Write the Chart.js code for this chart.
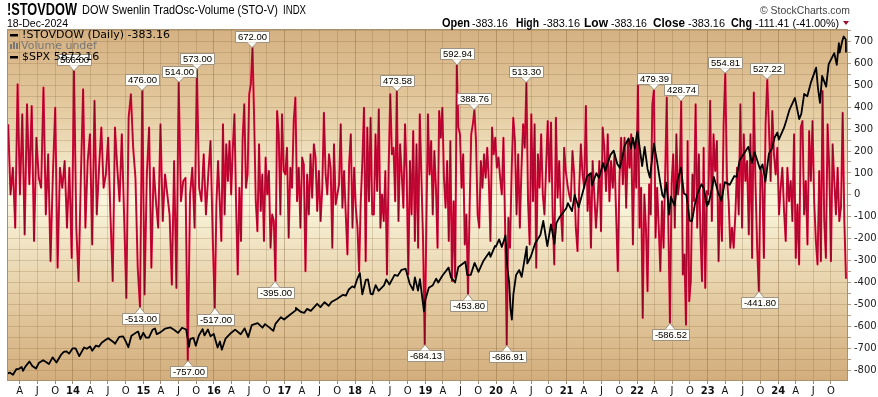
<!DOCTYPE html>
<html>
<head>
<meta charset="utf-8">
<script src="https://cdn.jsdelivr.net/npm/chart.js@4.4.0/dist/chart.umd.min.js"></script>
<style>
  html, body { margin: 0; padding: 0; background: #fff; overflow: hidden; }
</style>
</head>
<body>
<canvas id="chart" width="878" height="397"></canvas>
<script>
// --- data ---
const firstDay = [2013, 1, 25];
const lastDay = [2024, 12, 18];
const oscYears = [2013, 2014, 2015, 2016, 2017, 2018, 2019, 2020, 2021, 2022, 2023, 2024];

// !STOVDOW, values spread evenly through each year
const osc2013 = [322, 2, 124, -150, 505, 2, 368, -181, 413, 48, 406, -211, 261, 78, 32, 490, -90, 185, -303, 93, 398, -333, 124, 32, 154, -150, 124, -288];
const osc2014 = [566, -150, -394, 78, 482, -150, 154, 276, -227, 429, -90, 124, 307, 32, 93, 261, -90, -394, 307, 124, -29, 276, -90, -471, 352, 459, 215, 78, -333, -513, 476];
const osc2015 = [-455, 93, 307, -333, 124, -29, -150, 322, -120, 93, 2, -90, -410, 154, -425, 514, -29, 63, 78, -757, 2, 124, -150, 573, 32, -29, 185, -90, 93, 246, -211];
const osc2016 = [-517, -44, 154, -29, -211, 322, -90, 231, 63, 246, 2, 215, 368, -44, -364, 32, -211, 261, 413, 32, 93, 459, 505, 672, 352, -29, -166, 231, -74, 93, -211, 170, 2, 109, -242, -90, -120, -395, 383, 276, -90, 368, 109];
const osc2017 = [93, 215, -196, 124, 32, 337, 444, -29, 124, -150, 170, 139, -349, 93, -90, 185, -13, 231, 170, -74, 109, -120, 32, 375, 93, 2, 185, 124, -242, 231, -44, 2, 48, 322, -59, 109, -90, -272, 139, 276, -150, 124];
const osc2018 = [-59, -150, -349, -29, 154, 398, -303, 307, -29, 352, -90, -90, 276, 17, 391, -150, 2, -120, 109, -364, 124, 459, 185, 215, -29, 473.58, -120, 231, 93, -59, 322, 93, -364, 154, -90, 291, -211, 231, -242, 368, 78, -211, -684.13];
const osc2019 = [-150, 368, 93, 246, -90, 200, 32, -242, 383, 261, 398, 78, -59, 154, -211, 246, -394, -29, -379, 592.94, 307, 276, 32, 185, -227, -90, -453.8, -59, 276, 322, 388.76, 246, -90, -150, 154, 32, 185, 78, 215, 63, -211, 307, 185, 261];
const osc2020 = [124, 170, 78, 2, 261, -135, -686.91, -105, -242, 109, 352, 246, -90, 185, -150, 124, 322, 215, 513.3, -29, -227, 368, -29, 322, -333, 185, 32, 276, 2, -90, 124, 337, 60, 330, -90, -318, 352, -13, 154, -74, -211, 215, 109];
const osc2021 = [48, 2, -29, 200, 93, -150, -257, 32, 231, 93, 32, 406, -74, 93, -242, 154, 2, -150, -29, 154, -166, 307, 215, 17, 276, -29, 154, 32, 185, -90, -349, 78, 261, 48, 261, -59, 246, 124, 276, -227, 231, 32];
const osc2022 = [505, -150, 32, -562, 2, -150, -440, 48, -90, 413, 479.39, -196, 32, -150, -349, -29, -242, 93, 444, -150, -586.52, 48, 185, -150, 276, 2, 63, 428.74, -364, -272, -593, 246, -486, -394, 93, -29, 413, -150, 185, -181, -394, 215, -425, 17];
const osc2023 = [2, 429, -120, 276, 109, 246, -303, 48, -211, 322, 554.81, 78, -29, -242, -150, -242, -90, 124, -90, 413, -150, 276, 63, 154, -181, 276, -288, 467, 48, -242, -441.8, 124, 78, -288, 322, 527.22, 307, 63, 383, 185, 93, 215];
const osc2024 = [-90, 32, 124, -74, -211, 124, -29, 63, -120, 276, -288, -44, -318, 307, 337, -90, 63, -227, 291, 63, 337, -29, -211, -318, 109, -303, 474, -120, -288, 322, 124, -303, 231, 63, -90, 124, -120, -59, 375, -120, -383.16];

// $SPX as [month, day, close]
const spx2013 = [[1,25,1503],[2,8,1518],[2,25,1488],[3,14,1563],[3,28,1569],[4,11,1593],[4,18,1541],[4,30,1598],[5,21,1669],[6,5,1608],[6,24,1573],[7,10,1652],[7,31,1686],[8,15,1661],[8,30,1633],[9,18,1725],[10,8,1655],[10,31,1757],[11,15,1798],[11,29,1806],[12,12,1775],[12,31,1848]];
const spx2014 = [[1,15,1848],[2,3,1742],[2,28,1859],[3,14,1841],[3,31,1872],[4,11,1815],[4,30,1884],[5,15,1870],[5,30,1924],[6,20,1963],[7,3,1985],[7,31,1931],[8,7,1910],[8,29,2003],[9,18,2011],[10,1,1946],[10,15,1862],[10,31,2018],[11,28,2068],[12,5,2075],[12,16,1973],[12,31,2059]];
const spx2015 = [[1,15,1992],[1,30,1995],[2,17,2100],[3,2,2117],[3,11,2040],[3,31,2068],[4,24,2117],[5,21,2131],[6,12,2094],[6,29,2057],[7,20,2128],[8,10,2104],[8,25,1867],[8,31,1972],[9,17,1990],[9,29,1884],[10,15,2023],[11,3,2109],[11,13,2023],[12,1,2103],[12,14,2012],[12,31,2044]];
const spx2016 = [[1,20,1859],[2,1,1940],[2,11,1829],[3,1,1978],[3,31,2060],[4,20,2102],[5,19,2040],[6,8,2119],[6,27,2000],[7,15,2162],[8,15,2190],[9,9,2128],[9,22,2177],[10,14,2133],[11,4,2085],[11,15,2180],[12,13,2271],[12,30,2239]];
const spx2017 = [[1,26,2298],[2,28,2364],[3,1,2396],[3,27,2342],[4,13,2329],[4,28,2384],[5,17,2357],[6,19,2453],[7,6,2409],[7,27,2475],[8,18,2426],[9,1,2477],[9,29,2519],[10,31,2575],[11,15,2565],[11,30,2648],[12,18,2690],[12,29,2674]];
const spx2018 = [[1,12,2786],[1,26,2872],[2,8,2581],[2,26,2780],[3,9,2786],[3,23,2588],[4,2,2582],[4,18,2708],[5,3,2630],[5,31,2705],[6,12,2786],[6,28,2716],[7,25,2846],[8,10,2833],[8,29,2914],[9,20,2930],[10,11,2728],[10,29,2641],[11,7,2813],[11,23,2633],[12,3,2790],[12,24,2351],[12,31,2507]];
const spx2019 = [[1,18,2671],[2,8,2707],[2,25,2796],[3,8,2743],[3,29,2834],[4,30,2946],[5,13,2812],[6,3,2744],[6,20,2954],[7,26,3026],[8,5,2844],[8,23,2847],[9,12,3010],[10,2,2887],[10,28,3040],[11,27,3154],[12,3,3093],[12,27,3240],[12,31,3231]];
const spx2020 = [[1,17,3330],[1,31,3226],[2,19,3386],[2,28,2954],[3,9,2747],[3,16,2386],[3,23,2237],[3,31,2585],[4,14,2846],[4,30,2912],[5,13,2820],[6,8,3232],[6,11,3002],[6,30,3100],[7,22,3276],[8,18,3390],[9,2,3580],[9,23,3237],[10,12,3534],[10,30,3270],[11,9,3550],[11,27,3638],[12,18,3709],[12,31,3756]];
const spx2021 = [[1,8,3824],[1,29,3714],[2,12,3934],[3,4,3768],[3,26,3974],[4,16,4185],[5,7,4232],[5,12,4063],[6,4,4229],[6,18,4166],[7,9,4369],[7,19,4258],[8,16,4479],[9,2,4537],[9,20,4358],[10,4,4300],[10,29,4605],[11,18,4704],[11,30,4567],[12,10,4712],[12,20,4568],[12,31,4766]];
const spx2022 = [[1,3,4797],[1,27,4326],[2,9,4587],[2,24,4288],[3,8,4171],[3,29,4631],[4,14,4393],[4,29,4132],[5,12,3930],[5,20,3901],[6,1,4101],[6,16,3666],[6,24,3912],[7,14,3790],[7,29,4130],[8,16,4305],[8,31,3955],[9,13,3933],[9,30,3586],[10,12,3577],[10,27,3808],[11,10,3956],[11,30,4080],[12,13,4019],[12,28,3783],[12,31,3840]];
const spx2023 = [[1,5,3808],[1,27,4071],[2,2,4180],[2,24,3970],[3,13,3855],[3,31,4109],[4,25,4071],[5,19,4192],[5,31,4180],[6,16,4410],[7,31,4589],[8,18,4370],[9,1,4516],[9,29,4288],[10,12,4350],[10,27,4117],[11,14,4496],[11,30,4568],[12,14,4719],[12,28,4783]];
const spx2024 = [[1,4,4688],[1,31,4846],[2,13,4953],[2,29,5096],[3,28,5254],[4,19,4967],[4,30,5036],[5,15,5308],[5,31,5278],[6,20,5473],[7,16,5667],[7,25,5399],[8,5,5186],[8,16,5554],[9,6,5408],[9,19,5713],[10,18,5864],[10,31,5705],[11,11,6001],[11,15,5870],[11,29,6032],[12,6,6090],[12,17,6050],[12,18,5872]];

// tagged highs / lows
const peakTags = [566, 476, 514, 573, 672, 473.58, 592.94, 388.76, 513.3, 479.39, 428.74, 554.81, 527.22];
const troughTags = [-513, -757, -517, -395, -684.13, -453.8, -686.91, -586.52, -441.8];

// axis labels
const quarterLetters = ['A', 'J', 'O'];
const yTickLabels = [-800, -700, -600, -500, -400, -300, -200, -100, 0, 100, 200, 300, 400, 500, 600, 700];

const oscSeries = [osc2013, osc2014, osc2015, osc2016, osc2017, osc2018, osc2019, osc2020, osc2021, osc2022, osc2023, osc2024];
const spxSeries = [spx2013, spx2014, spx2015, spx2016, spx2017, spx2018, spx2019, spx2020, spx2021, spx2022, spx2023, spx2024];

function decYear(y, m, d) {
    const t0 = Date.UTC(y, 0, 1), t1 = Date.UTC(y + 1, 0, 1);
    return y + (Date.UTC(y, m - 1, d) - t0) / (t1 - t0);
}

const xStart = decYear(...firstDay);
const xEnd = decYear(...lastDay);
const xMax = 2024.99;

const oscPoints = [];
oscSeries.forEach((vals, k) => {
    const yr = oscYears[k];
    const s = Math.max(yr, xStart);
    let span = Math.min(yr + 1, xEnd) - s;
    if (k === oscSeries.length - 1) span = span * vals.length / (vals.length - 0.5);
    vals.forEach((v, i) => oscPoints.push({ x: s + (i + 0.5) * span / vals.length, y: v }));
});

const spxPoints = [];
spxSeries.forEach((rows, k) => {
    rows.forEach(([m, d, v]) => spxPoints.push({ x: decYear(oscYears[k], m, d), y: v }));
});

const quarterTicks = [];
oscYears.forEach(yr => {
    [1, 4, 7, 10].forEach((m, q) => {
        const v = decYear(yr, m, 1);
        if (v < xStart || v > xMax) return;
        quarterTicks.push({
            value: v,
            isYear: q === 0,
            label: q === 0 ? String(yr % 100).padStart(2, '0') : quarterLetters[q - 1]
        });
    });
});

const yGrid = [];
yTickLabels.forEach(v => { yGrid.push(v); yGrid.push(v + 50); });

// --- drawing helpers ---
function fitText(ctx, text, x, y, width) {
    const w = ctx.measureText(text).width;
    ctx.save();
    ctx.translate(x, y);
    ctx.scale(width / w, 1);
    ctx.fillText(text, 0, 0);
    ctx.restore();
}

function drawTag(ctx, text, px, py, above) {
    ctx.font = '9.5px "Liberation Sans", Arial, sans-serif';
    const w = Math.round(ctx.measureText(text).width) + 5;
    const h = 11, tri = 5.5;
    const bx = Math.round(px - w / 2) + 0.5;
    const by = Math.round(above ? py - tri - h : py + tri) + 0.5;
    ctx.fillStyle = '#fffdf7';
    ctx.strokeStyle = '#9d9384';
    ctx.lineWidth = 1;
    ctx.beginPath();
    ctx.rect(bx, by, w, h);
    ctx.fill();
    ctx.stroke();
    const baseY = above ? by + h : by;
    ctx.beginPath();
    ctx.moveTo(px - 5, baseY);
    ctx.lineTo(px, py);
    ctx.lineTo(px + 5, baseY);
    ctx.fill();
    ctx.stroke();
    ctx.fillStyle = '#fffdf7';
    ctx.fillRect(px - 4, above ? baseY - 1.5 : baseY + 0.5, 8, 1.5);
    ctx.fillStyle = '#000';
    ctx.textAlign = 'center';
    ctx.textBaseline = 'middle';
    ctx.fillText(text, bx + w / 2, by + h / 2 + 0.5);
}

const backdrop = {
    id: 'backdrop',
    beforeDraw(chart) {
        const { ctx, chartArea: a } = chart;
        ctx.save();
        ctx.fillStyle = '#fff';
        ctx.fillRect(0, 0, chart.width, chart.height);
        const g = ctx.createLinearGradient(0, a.top, 0, a.bottom);
        g.addColorStop(0, '#d5b182');
        g.addColorStop(0.2, '#e2c79b');
        g.addColorStop(0.49, '#faf6dc');
        g.addColorStop(0.78, '#e3caa0');
        g.addColorStop(1, '#d3ad7c');
        ctx.fillStyle = g;
        ctx.fillRect(a.left, a.top, a.right - a.left, a.bottom - a.top);
        ctx.restore();
    }
};

const tags = {
    id: 'tags',
    afterDatasetsDraw(chart) {
        const { ctx, scales } = chart;
        ctx.save();
        const find = v => oscPoints.find(p => p.y === v);
        peakTags.forEach(v => {
            const p = find(v);
            if (p) drawTag(ctx, v.toFixed(2), Math.round(scales.x.getPixelForValue(p.x)), scales.y.getPixelForValue(v), true);
        });
        troughTags.forEach(v => {
            const p = find(v);
            if (p) drawTag(ctx, v.toFixed(2), Math.round(scales.x.getPixelForValue(p.x)), scales.y.getPixelForValue(v), false);
        });
        ctx.restore();
    }
};

const header = {
    id: 'header',
    afterDraw(chart) {
        const { ctx, chartArea: a } = chart;
        ctx.save();
        // plot frame
        ctx.strokeStyle = '#a8916f';
        ctx.lineWidth = 1;
        ctx.strokeRect(a.left + 0.5, a.top + 0.5, a.right - a.left - 1, a.bottom - a.top - 1);

        ctx.textBaseline = 'middle';
        ctx.textAlign = 'left';
        ctx.fillStyle = '#000';
        ctx.font = 'bold 16px "Liberation Sans", Arial, sans-serif';
        fitText(ctx, '!STOVDOW', 7, 11, 70);
        ctx.font = '12.5px "Liberation Sans", Arial, sans-serif';
        fitText(ctx, 'DOW Swenlin TradOsc-Volume (STO-V)', 82, 11, 196);
        ctx.font = '12px "Liberation Sans", Arial, sans-serif';
        fitText(ctx, 'INDX', 283, 11, 23);
        ctx.font = '11px "Liberation Sans", Arial, sans-serif';
        fitText(ctx, '18-Dec-2024', 7, 23.5, 61);

        ctx.fillStyle = '#444';
        ctx.font = '11px "Liberation Sans", Arial, sans-serif';
        fitText(ctx, '\u00a9 StockCharts.com', 760, 11, 90);

        const quote = [
            ['Open', 442, 28, true], ['-383.16', 472, 36, false],
            ['High', 516, 23, true], ['-383.16', 543, 37, false],
            ['Low', 584, 24, true], ['-383.16', 611, 36, false],
            ['Close', 653, 32, true], ['-383.16', 688, 37, false],
            ['Chg', 731, 21, true], ['-111.41 (-41.00%)', 755, 84, false]
        ];
        ctx.fillStyle = '#000';
        quote.forEach(([t, x, w, b]) => {
            ctx.font = (b ? 'bold 12px ' : '11px ') + '"Liberation Sans", Arial, sans-serif';
            fitText(ctx, t, x, 23.5, w);
        });
        ctx.fillStyle = '#a0102c';
        ctx.beginPath();
        ctx.moveTo(843, 21);
        ctx.lineTo(849, 21);
        ctx.lineTo(846, 25);
        ctx.closePath();
        ctx.fill();

        // legend
        ctx.font = '11px "DejaVu Sans", sans-serif';
        ctx.fillStyle = '#000';
        ctx.fillRect(10, 34, 8, 2.5);
        ctx.fillText('!STOVDOW (Daily) -383.16', 22, 35.5);
        ctx.fillStyle = '#777';
        ctx.fillRect(10, 44, 2, 5);
        ctx.fillRect(13, 42, 2, 7);
        ctx.fillRect(16, 43, 2, 6);
        ctx.fillRect(19, 42, 1, 7);
        ctx.fillText('Volume undef', 21, 46.5);
        ctx.fillStyle = '#000';
        ctx.fillRect(10, 56, 8, 2.5);
        ctx.fillText('$SPX 5872.16', 22, 57.5);
        ctx.restore();
    }
};

const gridTan = 'rgba(125, 92, 52, 0.22)';

new Chart(document.getElementById('chart').getContext('2d'), {
    type: 'line',
    data: {
        datasets: [
            { label: '$SPX', data: spxPoints, yAxisID: 'y2', borderColor: '#000', borderWidth: 1.8, order: 0 },
            { label: 'core', data: oscPoints, yAxisID: 'y', borderColor: 'rgba(0,0,0,0.38)', borderWidth: 0.7, order: 1 },
            { label: '!STOVDOW', data: oscPoints, yAxisID: 'y', borderColor: '#e20a3e', borderWidth: 2, order: 2 }
        ]
    },
    options: {
        responsive: false,
        animation: false,
        devicePixelRatio: 1,
        parsing: false,
        events: [],
        layout: { padding: { top: 29, left: 7, right: 0, bottom: 0 } },
        elements: {
            point: { radius: 0 },
            line: { tension: 0, borderJoinStyle: 'round', fill: false }
        },
        plugins: { legend: { display: false }, tooltip: { enabled: false } },
        scales: {
            x: {
                type: 'linear',
                min: xStart,
                max: xMax,
                afterBuildTicks: s => { s.ticks = quarterTicks.map(t => ({ value: t.value })); },
                afterFit: s => { s.height = 16; },
                ticks: {
                    autoSkip: false,
                    maxRotation: 0,
                    padding: 1,
                    color: '#111',
                    font: c => ({ family: 'DejaVu Sans', size: 10, weight: quarterTicks[c.index] && quarterTicks[c.index].isYear ? 'bold' : 'normal' }),
                    callback: (v, i) => quarterTicks[i] ? quarterTicks[i].label : ''
                },
                grid: {
                    color: c => (quarterTicks[c.index] && quarterTicks[c.index].isYear) ? 'rgba(125, 92, 52, 0.38)' : gridTan,
                    tickLength: 3,
                    tickColor: '#9a8a78'
                },
                border: { display: false }
            },
            y: {
                position: 'right',
                min: -850,
                max: 757,
                afterBuildTicks: s => { s.ticks = yGrid.map(v => ({ value: v })); },
                afterFit: s => { s.width = 30; },
                ticks: {
                    autoSkip: false,
                    padding: 3,
                    color: '#222',
                    font: { family: 'DejaVu Sans', size: 10 },
                    callback: v => yTickLabels.includes(v) ? String(v) : ''
                },
                grid: { color: gridTan, tickLength: 3, tickColor: '#b89a88' },
                border: { display: false }
            },
            y2: { display: false, min: 1403, max: 6192 }
        }
    },
    plugins: [backdrop, tags, header]
});
</script>
</body>
</html>
